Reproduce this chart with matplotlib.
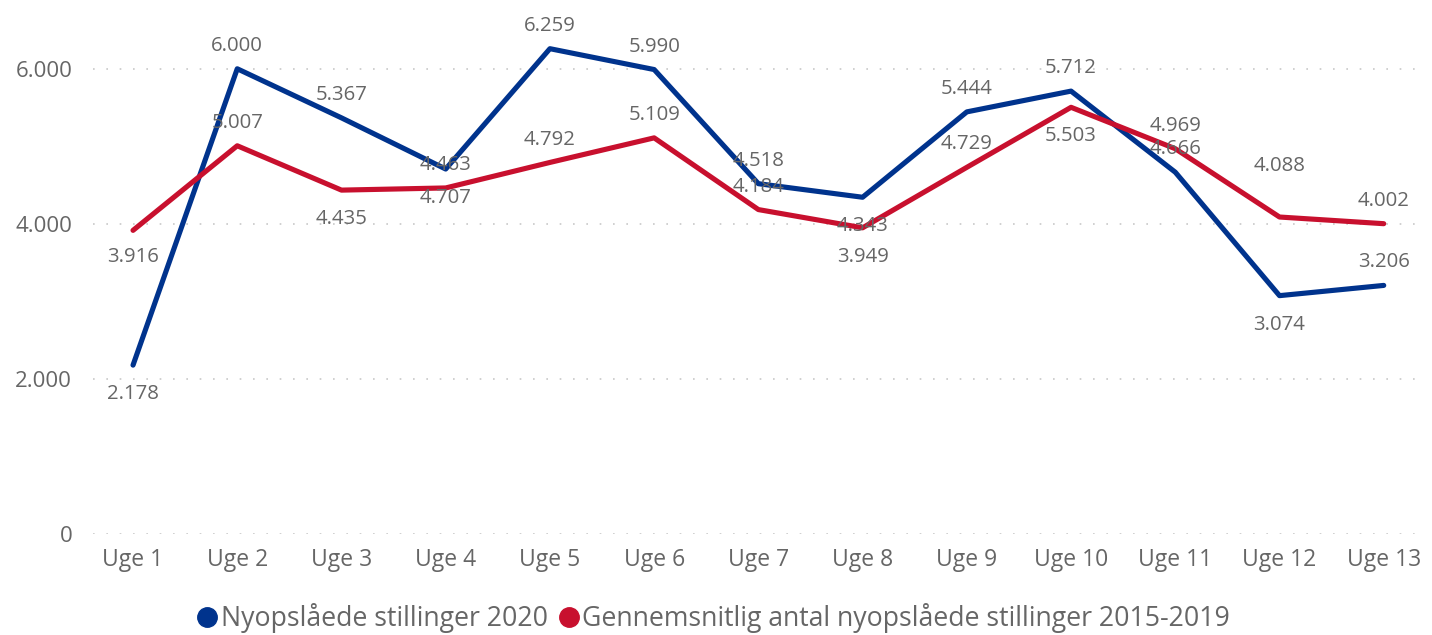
import matplotlib

matplotlib.use("Agg")
import matplotlib.pyplot as plt  # noqa: E402
from matplotlib.lines import Line2D  # noqa: E402

weeks = [f"Uge {i}" for i in range(1, 14)]
jobs_2020 = [2178, 6000, 5367, 4707, 6259, 5990, 4518, 4343, 5444, 5712, 4666, 3074, 3206]
avg_2015_2019 = [3916, 5007, 4435, 4463, 4792, 5109, 4184, 3949, 4729, 5503, 4969, 4088, 4002]
y_ticks = [0, 2000, 4000, 6000]

# label offsets (points) for each data label, + is above
UP, DN = 16.5, -21
off_2020 = [DN, UP, UP, DN, UP, UP, UP, DN, UP, UP, UP, DN, UP]
off_avg = [-19, UP, DN, UP, UP, UP, UP, DN, UP, DN, UP, 37, UP]

BLUE = "#00338d"
RED = "#c8102e"
GREY = "#666666"

plt.rcParams["font.family"] = ["Open Sans", "DejaVu Sans"]


def fmt(v):
    return f"{v:,}".replace(",", ".")


fig = plt.figure(figsize=(14.32, 6.35), dpi=100)
ax = fig.add_axes([93 / 1432, 101 / 635, (1415 - 93) / 1432, 504 / 635])

x = range(len(weeks))
ax.plot(x, jobs_2020, color=BLUE, lw=3.7, solid_capstyle="round", solid_joinstyle="round", zorder=3)
ax.plot(x, avg_2015_2019, color=RED, lw=3.7, solid_capstyle="round", solid_joinstyle="round", zorder=3)

for xs, ys, offs in ((x, jobs_2020, off_2020), (x, avg_2015_2019, off_avg)):
    for xi, yi, o in zip(xs, ys, offs):
        ax.annotate(fmt(yi), (xi, yi), xytext=(0, o), textcoords="offset points",
                    ha="center", va="center", color=GREY, fontsize=14.7, zorder=4)

ax.set_xlim(-0.384, 12.3)
ax.set_ylim(0, 6500)
ax.set_xticks(list(x))
ax.set_xticklabels(weeks)
ax.set_yticks(y_ticks)
ax.set_yticklabels([fmt(t) for t in y_ticks])
ax.tick_params(length=0, labelcolor=GREY)
ax.tick_params(axis="x", labelsize=16.5, pad=10)
ax.tick_params(axis="y", labelsize=16, pad=15)
for s in ax.spines.values():
    s.set_visible(False)
ax.yaxis.grid(True, color="#c8c8c8", lw=1.2, linestyle=(0, (1, 7)))
ax.set_axisbelow(True)

handles = [
    Line2D([], [], marker="o", ls="", color=BLUE, markersize=14),
    Line2D([], [], marker="o", ls="", color=RED, markersize=14),
]
fig.legend(handles, ["Nyopslåede stillinger 2020",
                     "Gennemsnitlig antal nyopslåede stillinger 2015-2019"],
           loc="center", bbox_to_anchor=(712 / 1432, 1 - 618 / 635), ncol=2, frameon=False,
           fontsize=19.2, labelcolor=GREY, handletextpad=0.0, columnspacing=0.3,
           handlelength=1.0)

fig.savefig("out.png", facecolor="white")
